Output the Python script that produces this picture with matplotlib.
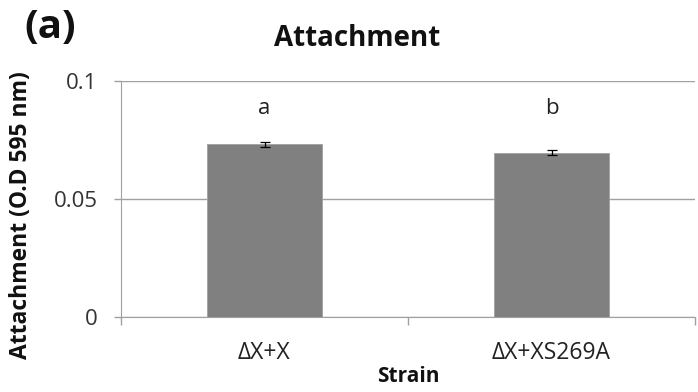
import matplotlib
matplotlib.use("Agg")
import matplotlib.pyplot as plt
import numpy as np

categories = ["ΔX+X", "ΔX+XS269A"]
values = [0.0732, 0.0696]
errors = [0.0011, 0.0011]
sig_letters = ["a", "b"]
yticks = [0, 0.05, 0.1]
ytick_labels = ["0", "0.05", "0.1"]

plt.rcParams['font.family'] = ['Open Sans', 'DejaVu Sans']

fig = plt.figure(figsize=(6.98, 3.92), dpi=100)
ax = fig.add_axes([121/698, 1-317/392, (695-121)/698, (317-81)/392])

x = np.arange(len(categories))
ax.bar(x, values, width=0.4, color='#808080', edgecolor='#a0a0a0', linewidth=0.6, zorder=3)
ax.errorbar(x, values, yerr=errors, fmt='none', ecolor='black', elinewidth=0.9,
            capsize=3.5, capthick=0.9, zorder=4)
for xi, v, lab in zip(x, values, sig_letters):
    ax.text(xi, 0.0882, lab, ha='center', va='center', fontsize=16, color='#222222')

ax.set_xlim(-0.5, 1.5)
ax.set_ylim(0, 0.1)
ax.set_yticks(yticks)
ax.set_yticklabels(ytick_labels, fontsize=16, color='#333333')
ax.set_xticks(x)
ax.set_xticklabels(categories, fontsize=16.5, color='#222222')
ax.tick_params(axis='x', length=0, pad=17)
ax.tick_params(axis='y', length=5, color='#a0a0a0', width=1, pad=12)
# category boundary ticks
ax.set_xticks([-0.5, 0.5, 1.5], minor=True)
ax.tick_params(axis='x', which='minor', length=6, color='#a0a0a0', width=1)

ax.grid(axis='y', color='#a0a0a0', linewidth=1, zorder=0)
for s in ['top', 'right']:
    ax.spines[s].set_visible(False)
ax.spines['left'].set_color('#a0a0a0')
ax.spines['bottom'].set_color('#a0a0a0')

ax.set_xlabel("Strain", fontsize=15, fontweight='bold', color='#111111')
ax.xaxis.set_label_coords((408-121)/574, (317-377)/236)
ax.xaxis.label.set_va('center')
ax.set_ylabel("Attachment (O.D 595 nm)", fontsize=16.5, fontweight='bold', color='#111111')
ax.yaxis.set_label_coords((21-121)/574, (317-215)/236)
ax.yaxis.label.set_va('center')

fig.text(357/698, 1-39/392, "Attachment", ha='center', va='center', fontsize=20, fontweight='bold', color='#111111')
fig.text(50/698, 1-27/392, "(a)", ha='center', va='center', fontsize=29, fontweight='bold', color='#111111')

fig.savefig("out.png", dpi=100)
